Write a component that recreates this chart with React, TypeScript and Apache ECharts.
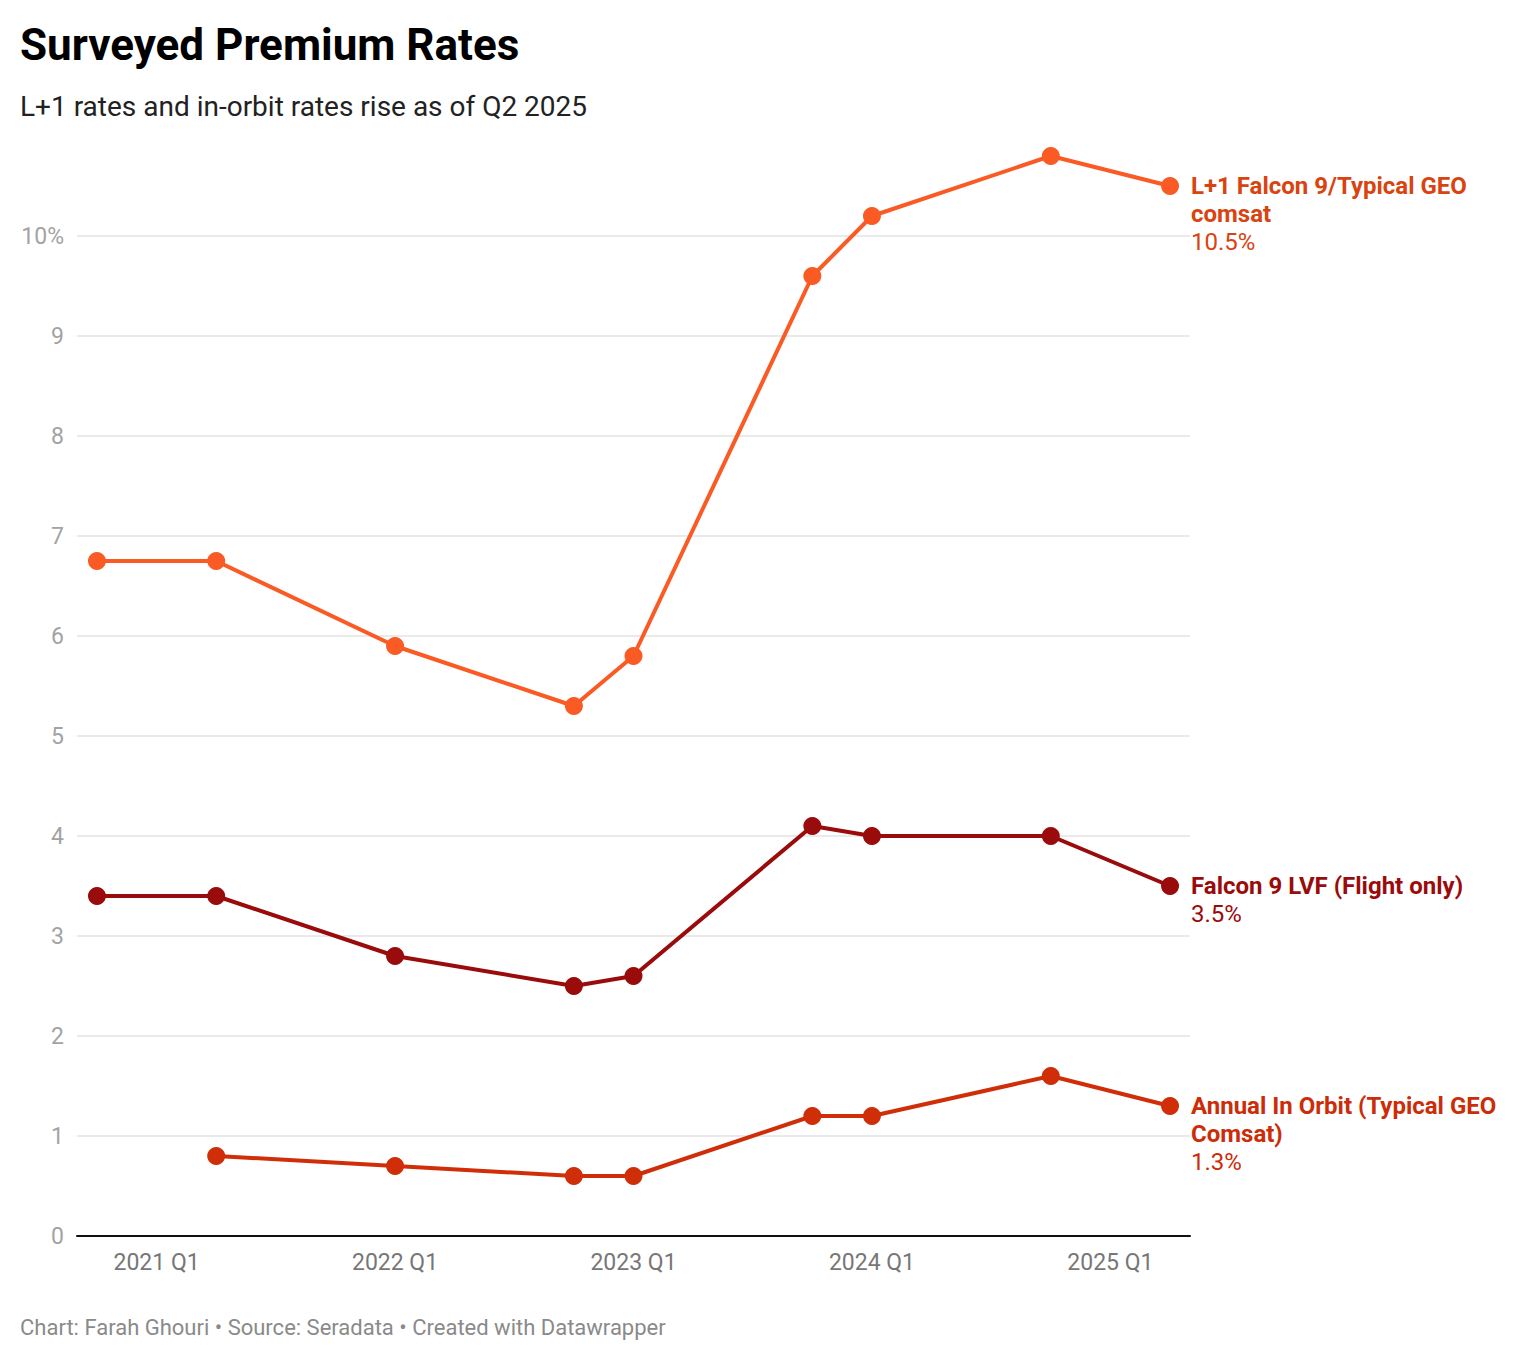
import React, { useEffect, useRef } from 'react';
import * as echarts from 'echarts';

// quarters at which the survey was taken
const quarters = ['2020 Q4', '2021 Q2', '2022 Q1', '2022 Q4', '2023 Q1', '2023 Q4', '2024 Q1', '2024 Q4', '2025 Q2'];

// premium rates, %
const l1Falcon = [6.75, 6.75, 5.9, 5.3, 5.8, 9.6, 10.2, 10.8, 10.5];
const falconLvf = [3.4, 3.4, 2.8, 2.5, 2.6, 4.1, 4.0, 4.0, 3.5];
const annualInOrbit = [null, 0.8, 0.7, 0.6, 0.6, 1.2, 1.2, 1.6, 1.3];

const xTickLabels = ['2021 Q1', '2022 Q1', '2023 Q1', '2024 Q1', '2025 Q1'];
const yMax = 10;

const FONT = 'Roboto, "Noto Sans", sans-serif';

function quarterIndex(label: string) {
  const [y, q] = label.split(' ');
  return (Number(y) - 2021) * 4 + (Number(q.slice(1)) - 1);
}

function toPoints(values: (number | null)[]) {
  return quarters
    .map((q, i) => [quarterIndex(q), values[i]])
    .filter((p) => p[1] !== null);
}

function lineSeries(name: string, values: (number | null)[], color: string, labelColor: string, labelLines: string[]) {
  const last = values[values.length - 1];
  const text = labelLines.map((l) => `{n|${l}}`).join('\n') + `\n{v|${last}%}`;
  return {
    name,
    type: 'line',
    data: toPoints(values),
    symbol: 'circle',
    symbolSize: 18,
    clip: false,
    silent: true,
    lineStyle: { width: 4, color },
    itemStyle: { color },
    emphasis: { disabled: true },
    endLabel: {
      show: true,
      formatter: () => text,
      distance: 8,
      offset: [13, -14],
      align: 'left',
      verticalAlign: 'top',
      rich: {
        n: { fontFamily: FONT, fontSize: 24, fontWeight: 'bold', color: labelColor, lineHeight: 28 },
        v: { fontFamily: FONT, fontSize: 24, color: labelColor, lineHeight: 28 },
      },
    },
  };
}

export default function App() {
  const chartRef = useRef<HTMLDivElement>(null);

  useEffect(() => {
    document.body.style.margin = '0';
    if (!chartRef.current) return;
    const chart = echarts.init(chartRef.current, null, { renderer: 'svg' });

    const xMin = quarterIndex(quarters[0]) - 0.335;
    const xMax = quarterIndex(quarters[quarters.length - 1]) + 0.335;

    const option = {
      animation: false,
      backgroundColor: '#fff',
      textStyle: { fontFamily: FONT },
      grid: { left: 77, right: 338, top: 236, bottom: 126, containLabel: false, outerBoundsMode: 'none' },
      graphic: [
        {
          type: 'text',
          left: 20,
          top: 23,
          style: { text: 'Surveyed Premium Rates', font: `bold 44px ${FONT}`, fill: '#000' },
        },
        {
          type: 'text',
          left: 20,
          top: 92,
          style: { text: 'L+1 rates and in-orbit rates rise as of Q2 2025', font: `28px ${FONT}`, fill: '#222' },
        },
        {
          type: 'text',
          left: 20,
          top: 1316,
          style: {
            text: 'Chart: Farah Ghouri • Source: Seradata • Created with Datawrapper',
            font: `22px ${FONT}`,
            fill: '#8a8a8a',
          },
        },
      ],
      xAxis: {
        type: 'value',
        min: xMin,
        max: xMax,
        axisLine: { show: true, lineStyle: { color: '#111', width: 2 } },
        axisTick: { show: false },
        splitLine: { show: false },
        axisLabel: {
          customValues: xTickLabels.map(quarterIndex),
          formatter: (v: number) => xTickLabels.find((l) => quarterIndex(l) === v) ?? '',
          color: '#777',
          fontSize: 23,
          fontFamily: FONT,
          margin: 15,
        },
      },
      yAxis: {
        type: 'value',
        min: 0,
        max: yMax,
        interval: 1,
        axisLine: { show: false },
        axisTick: { show: false },
        splitLine: { lineStyle: { color: '#e3e3e3', width: 1.5 } },
        axisLabel: {
          formatter: (v: number) => (v === yMax ? `${v}%` : String(v)),
          color: '#a3a3a3',
          fontSize: 23,
          fontFamily: FONT,
          margin: 13,
        },
      },
      series: [
        lineSeries('Annual In Orbit (Typical GEO Comsat)', annualInOrbit, '#d02e08', '#cc2c07', ['Annual In Orbit (Typical GEO', 'Comsat)']),
        lineSeries('Falcon 9 LVF (Flight only)', falconLvf, '#9a0b0b', '#9a0b0b', ['Falcon 9 LVF (Flight only)']),
        lineSeries('L+1 Falcon 9/Typical GEO comsat', l1Falcon, '#fa5a24', '#d9430f', ['L+1 Falcon 9/Typical GEO', 'comsat']),
      ],
    };

    chart.setOption(option as echarts.EChartsOption);

    const resizeHandler = () => chart.resize();
    window.addEventListener('resize', resizeHandler);
    return () => {
      window.removeEventListener('resize', resizeHandler);
      chart.dispose();
    };
  }, []);

  return <div ref={chartRef} style={{ width: 1528, height: 1362 }} />;
}
